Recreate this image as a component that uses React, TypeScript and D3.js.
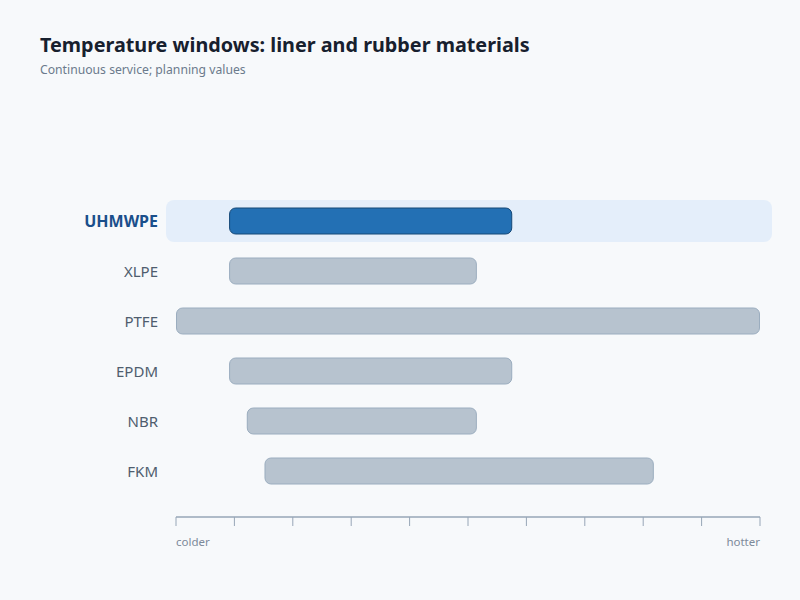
import { useEffect, useRef } from "react";
import * as d3 from "d3";

const materials = ["UHMWPE", "XLPE", "PTFE", "EPDM", "NBR", "FKM"];
const minTemp = [-40, -40, -70, -40, -30, -20];
const maxTemp = [120, 100, 260, 120, 100, 200];
const highlighted = "UHMWPE";
const axisEndLabels = ["colder", "hotter"];

const W = 800;
const H = 600;
const FONT = "'Noto Sans', 'Open Sans', sans-serif";

export default function App() {
  const svgRef = useRef<SVGSVGElement>(null);

  useEffect(() => {
    if (!svgRef.current) return;
    const svg = d3.select(svgRef.current);
    svg.selectAll("*").remove();

    svg.append("rect").attr("width", W).attr("height", H).attr("fill", "#f7f9fb");

    // title
    svg.append("text")
      .attr("x", 40).attr("y", 52)
      .attr("font-family", FONT).attr("font-size", 19.8).attr("font-weight", 700)
      .attr("fill", "#17202e")
      .text("Temperature windows: liner and rubber materials");
    svg.append("text")
      .attr("x", 40).attr("y", 74)
      .attr("font-family", FONT).attr("font-size", 12.2)
      .attr("fill", "#6b7a8c")
      .text("Continuous service; planning values");

    const rows = materials.map((m, i) => ({ name: m, lo: minTemp[i], hi: maxTemp[i] }));

    const x = d3.scaleLinear()
      .domain([d3.min(minTemp)!, d3.max(maxTemp)!])
      .range([176, 760]);

    // one 50px row per material, centred
    const y = d3.scaleBand().domain(materials).range([196, 496]);
    const cy = (name: string) => y(name)! + y.bandwidth() / 2;
    const barH = 27;

    const g = svg.append("g");

    // highlight band
    g.append("rect")
      .attr("x", 166).attr("y", cy(highlighted) - 21)
      .attr("width", 606).attr("height", 42)
      .attr("rx", 8)
      .attr("fill", "#e4eefa");

    // bars
    g.selectAll("rect.bar")
      .data(rows)
      .join("rect")
      .attr("class", "bar")
      .attr("x", (d) => x(d.lo) + 0.5)
      .attr("y", (d) => cy(d.name) - barH / 2 + 0.5)
      .attr("width", (d) => x(d.hi) - x(d.lo) - 1)
      .attr("height", barH - 1)
      .attr("rx", 6)
      .attr("fill", (d) => (d.name === highlighted ? "#2370b4" : "#b7c3cf"))
      .attr("stroke", (d) => (d.name === highlighted ? "#154877" : "#9badbf"))
      .attr("stroke-width", 1);

    // row labels
    g.selectAll("text.row-label")
      .data(rows)
      .join("text")
      .attr("class", "row-label")
      .attr("x", 158)
      .attr("y", (d) => cy(d.name))
      .attr("text-anchor", "end")
      .attr("dominant-baseline", "central")
      .attr("font-family", FONT)
      .attr("font-size", (d) => (d.name === highlighted ? 16 : 15))
      .attr("font-weight", (d) => (d.name === highlighted ? 700 : 400))
      .attr("fill", (d) => (d.name === highlighted ? "#1a4f8b" : "#4f5d6e"))
      .text((d) => d.name);

    // axis
    const [d0, d1] = x.domain();
    const tickVals = d3.range(11).map((i) => d0 + (i * (d1 - d0)) / 10);
    const axisY = 517;
    const axis = svg.append("g");
    axis.append("line")
      .attr("x1", x(d0)).attr("x2", x(d1))
      .attr("y1", axisY).attr("y2", axisY)
      .attr("stroke", "#97a6b7").attr("stroke-width", 1.5);
    axis.selectAll("line.tick")
      .data(tickVals)
      .join("line")
      .attr("class", "tick")
      .attr("x1", (d) => x(d)).attr("x2", (d) => x(d))
      .attr("y1", axisY).attr("y2", axisY + 9)
      .attr("stroke", "#97a6b7").attr("stroke-width", 1);
    axis.append("text")
      .attr("x", x(d0)).attr("y", 541)
      .attr("dominant-baseline", "central")
      .attr("font-family", FONT).attr("font-size", 11.5)
      .attr("fill", "#7d8a9a")
      .text(axisEndLabels[0]);
    axis.append("text")
      .attr("x", x(d1)).attr("y", 541)
      .attr("text-anchor", "end")
      .attr("dominant-baseline", "central")
      .attr("font-family", FONT).attr("font-size", 11.5)
      .attr("fill", "#7d8a9a")
      .text(axisEndLabels[1]);
  }, []);

  return (
    <svg
      ref={svgRef}
      width={W}
      height={H}
      style={{ position: "absolute", left: 0, top: 0, display: "block" }}
    />
  );
}
